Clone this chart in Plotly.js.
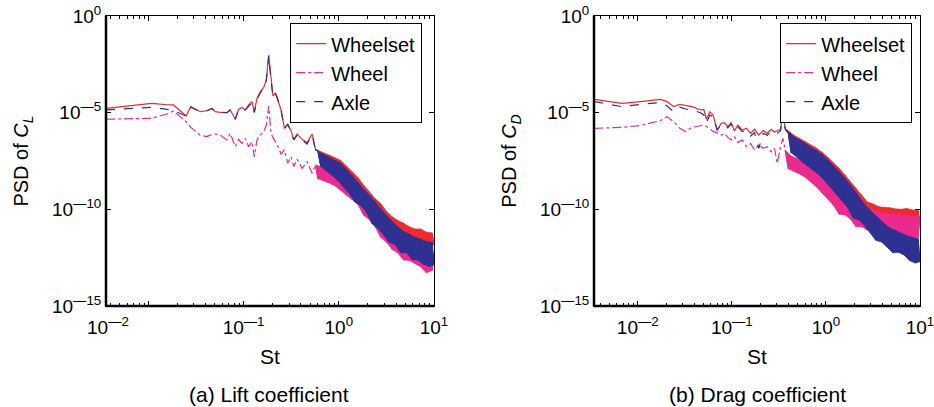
<!DOCTYPE html>
<html><head><meta charset="utf-8">
<script src="https://cdn.plot.ly/plotly-3.0.1.min.js"></script>
<style>html,body{margin:0;padding:0;background:#fff}#chart{width:934px;height:407px}</style>
</head><body><div id="chart"></div>
<script>
// All values are log10(St) and log10(PSD).
// (a) Lift coefficient - low-frequency part
const liftLowLogSt = [-2.445, -2.227, -1.964, -1.806, -1.736, -1.603, -1.554, -1.456, -1.385, -1.333, -1.298, -1.245, -1.175, -1.140, -1.087, -1.052, -1.017, -0.982, -0.947, -0.912, -0.887, -0.859, -0.824, -0.789, -0.761, -0.736, -0.712, -0.691, -0.666, -0.638, -0.606, -0.571, -0.536, -0.501, -0.473, -0.438, -0.385, -0.333, -0.280, -0.245];
const liftLowWheelset = [-4.78, -4.66, -4.52, -4.59, -4.60, -5.17, -4.69, -4.95, -4.90, -4.78, -4.95, -4.98, -5.00, -4.86, -5.34, -4.83, -4.72, -4.86, -4.60, -4.43, -4.95, -4.26, -3.91, -3.69, -3.31, -2.02, -3.31, -4.14, -3.97, -4.34, -4.86, -5.81, -5.59, -5.93, -6.41, -6.10, -6.38, -6.55, -6.10, -6.90];
const liftLowWheel = [-5.34, -5.33, -5.29, -5.07, -4.91, -5.47, -5.76, -6.16, -6.24, -6.12, -6.10, -6.16, -6.41, -6.07, -6.76, -6.38, -6.59, -6.33, -6.76, -6.50, -7.28, -6.41, -6.16, -5.98, -5.64, -4.66, -6.07, -6.28, -6.50, -6.76, -7.14, -6.93, -7.62, -7.28, -7.79, -7.41, -7.88, -7.53, -8.14, -7.71];
const liftLowAxle = [-4.86, -4.79, -4.72, -4.83, -4.90, -5.17, -4.72, -4.95, -4.90, -4.78, -4.95, -4.98, -5.00, -4.86, -5.34, -4.83, -4.78, -4.86, -4.66, -4.48, -5.00, -4.31, -3.97, -3.74, -3.34, -2.07, -3.31, -4.17, -4.00, -4.34, -4.90, -5.81, -5.62, -5.98, -6.41, -6.16, -6.41, -6.62, -6.16, -6.93];
// (a) Lift coefficient - noisy high-frequency part (alternating upper / lower edge of the noise band)
const liftHighLogSt = [-0.22, -0.19, -0.16, -0.13, -0.10, -0.07, -0.04, -0.01, 0.02, 0.05, 0.08, 0.11, 0.14, 0.17, 0.20, 0.23, 0.26, 0.29, 0.32, 0.35, 0.38, 0.41, 0.44, 0.47, 0.50, 0.53, 0.56, 0.59, 0.62, 0.65, 0.68, 0.71, 0.74, 0.77, 0.80, 0.83, 0.86, 0.89, 0.92, 0.95, 0.98, 1.00];
const liftHighWheelset = [-6.95, -7.67, -7.10, -7.88, -7.20, -8.07, -7.33, -8.34, -7.48, -8.66, -7.76, -9.00, -8.06, -9.36, -8.35, -9.69, -8.74, -9.98, -9.08, -10.29, -9.44, -10.59, -9.70, -10.88, -10.10, -11.10, -10.38, -11.28, -10.58, -11.41, -10.72, -11.53, -10.90, -11.62, -11.02, -11.69, -11.02, -11.76, -11.18, -11.81, -11.22, -11.84];
const liftHighWheel = [-8.41, -7.78, -8.53, -7.90, -8.64, -8.02, -8.78, -8.10, -9.00, -8.28, -9.26, -8.52, -9.50, -8.69, -9.74, -8.91, -10.30, -9.21, -10.52, -9.52, -10.88, -9.88, -11.45, -10.28, -11.69, -10.78, -12.07, -11.12, -12.26, -11.41, -12.62, -11.67, -12.64, -11.86, -12.81, -12.02, -12.97, -12.12, -13.28, -12.21, -13.16, -12.28];
const liftHighAxle = [-6.98, -7.78, -7.14, -8.00, -7.29, -8.24, -7.45, -8.52, -7.62, -8.83, -7.93, -9.17, -8.24, -9.62, -8.60, -9.81, -8.95, -10.14, -9.28, -10.75, -9.59, -10.97, -9.98, -11.31, -10.33, -11.72, -10.62, -11.81, -10.91, -12.25, -11.14, -12.24, -11.29, -12.60, -11.45, -12.62, -11.55, -12.85, -11.66, -12.95, -11.72, -12.88];

// (b) Drag coefficient - low-frequency part
const dragLowLogSt = [-2.461, -2.167, -1.972, -1.759, -1.688, -1.617, -1.553, -1.493, -1.422, -1.333, -1.298, -1.270, -1.234, -1.199, -1.156, -1.113, -1.078, -1.043, -1.007, -0.972, -0.936, -0.890, -0.844, -0.801, -0.759, -0.713, -0.667, -0.624, -0.582, -0.546, -0.518, -0.482, -0.457, -0.433];
const dragLowWheelset = [-4.31, -4.52, -4.43, -4.31, -4.43, -4.69, -4.57, -4.62, -4.69, -4.86, -4.83, -5.34, -4.95, -5.12, -5.93, -5.55, -5.52, -5.72, -5.52, -5.95, -5.64, -5.90, -5.81, -6.07, -5.86, -6.16, -5.93, -6.07, -5.86, -6.00, -5.93, -5.86, -4.95, -5.81];
const dragLowWheel = [-5.81, -5.76, -5.66, -5.41, -5.21, -5.47, -5.81, -5.98, -5.76, -5.69, -5.64, -5.72, -5.81, -5.98, -6.03, -6.16, -6.07, -6.28, -6.41, -6.24, -6.55, -6.41, -6.76, -6.59, -6.93, -6.67, -6.84, -6.76, -7.02, -6.84, -7.62, -6.76, -6.33, -6.93];
const dragLowAxle = [-4.43, -4.69, -4.57, -4.48, -4.66, -4.95, -4.72, -4.81, -4.86, -5.00, -5.12, -5.52, -5.12, -5.21, -5.86, -5.66, -5.59, -5.79, -5.59, -5.90, -5.72, -5.98, -5.93, -6.21, -6.03, -6.84, -6.07, -6.17, -5.98, -6.10, -6.07, -5.93, -5.00, -5.86];
// (b) Drag coefficient - noisy high-frequency part (alternating upper / lower edge of the noise band)
const dragHighLogSt = [-0.40, -0.37, -0.34, -0.31, -0.28, -0.25, -0.22, -0.19, -0.16, -0.13, -0.10, -0.07, -0.04, -0.01, 0.02, 0.05, 0.08, 0.11, 0.14, 0.17, 0.20, 0.23, 0.26, 0.29, 0.32, 0.35, 0.38, 0.41, 0.44, 0.47, 0.50, 0.53, 0.56, 0.59, 0.62, 0.65, 0.68, 0.71, 0.74, 0.77, 0.80, 0.83, 0.86, 0.89, 0.92, 0.95, 0.98, 1.00];
const dragHighWheelset = [-6.02, -6.93, -6.17, -7.14, -6.33, -7.38, -6.48, -7.59, -6.67, -7.79, -6.84, -8.00, -7.05, -8.29, -7.31, -8.62, -7.59, -8.95, -7.88, -9.26, -8.21, -9.59, -8.57, -9.91, -8.93, -10.14, -9.25, -10.34, -9.62, -10.41, -9.72, -10.43, -9.86, -10.47, -9.91, -10.48, -9.92, -10.50, -9.98, -10.53, -10.00, -10.55, -9.96, -10.60, -10.03, -10.64, -10.05, -10.69];
const dragHighWheel = [-7.90, -7.24, -8.03, -7.36, -8.17, -7.50, -8.34, -7.64, -8.59, -7.81, -8.84, -7.97, -9.14, -8.17, -9.47, -8.41, -9.79, -8.66, -10.25, -8.90, -10.28, -9.16, -10.50, -9.40, -10.90, -9.66, -10.90, -9.88, -11.07, -10.05, -11.19, -10.12, -11.24, -10.17, -11.45, -10.24, -11.36, -10.26, -11.38, -10.29, -11.40, -10.31, -11.55, -10.33, -11.45, -10.36, -11.47, -10.38];
const dragHighAxle = [-6.07, -7.07, -6.24, -7.29, -6.41, -7.55, -6.59, -7.78, -6.78, -8.00, -6.95, -8.22, -7.16, -8.53, -7.45, -8.86, -7.74, -9.21, -8.05, -9.55, -8.38, -9.90, -8.74, -10.45, -9.12, -10.55, -9.55, -10.84, -9.90, -11.19, -10.19, -11.60, -10.47, -11.69, -10.74, -11.95, -10.97, -12.25, -11.10, -12.22, -11.26, -12.36, -11.36, -12.65, -11.45, -12.78, -11.52, -12.71];

// Labels
const seriesNames = ['Wheelset', 'Wheel', 'Axle'];
const xTickVals = [0.01, 0.1, 1, 10];
const xTickText = ['10<sup>\u20142</sup>', '10<sup>\u20141</sup>', '10<sup>0</sup>', '10<sup>1</sup>'];
const yTickVals = [1, 1e-5, 1e-10, 1e-15];
const yTickText = ['10<sup>0</sup>', '10<sup>\u20145</sup>', '10<sup>\u201410</sup>', '10<sup>\u201415</sup>'];
const captions = ['(a) Lift coefficient', '(b) Drag coefficient'];

const pow10 = a => a.map(v => Math.pow(10, v));
const colors = ['#EE2A2E', '#EC2A8E', '#2E3192'];
const dashes = ['solid', 'dashdot', 'dash'];

// Noise band: the outline follows the read upper edge, then the read lower edge back.
function band(st, v) {
  const up = [0], dn = [0], n = v.length;
  for (let i = 1; i < n - 1; i++) {
    if (v[i] >= v[i - 1] && v[i] >= v[i + 1]) up.push(i); else dn.push(i);
  }
  up.push(n - 1); dn.push(n - 1);
  const idx = up.concat(dn.reverse());
  return {x: idx.map(i => st[i]), y: idx.map(i => v[i])};
}

const traces = [];
function addPlot(lowSt, lows, highSt, highs, xa, ya, legend) {
  for (let k = 0; k < 3; k++) {
    traces.push({
      type: 'scatter', mode: 'lines', name: seriesNames[k],
      x: pow10(lowSt), y: pow10(lows[k]),
      line: {color: colors[k], width: 1.2, dash: dashes[k]},
      xaxis: xa, yaxis: ya, legend: legend, hoverinfo: 'skip'
    });
    const st = [lowSt[lowSt.length - 1]].concat(highSt);
    const v = [lows[k][lows[k].length - 1]].concat(highs[k]);
    const b = band(st, v);
    traces.push({
      type: 'scatter', mode: 'lines', name: seriesNames[k], showlegend: false,
      x: pow10(b.x), y: pow10(b.y), fill: 'toself', fillcolor: colors[k],
      line: {color: colors[k], width: 0.8},
      xaxis: xa, yaxis: ya, legend: legend, hoverinfo: 'skip'
    });
    traces.push({
      type: 'scatter', mode: 'lines', name: seriesNames[k], showlegend: false,
      x: pow10(st), y: pow10(v),
      line: {color: colors[k], width: 1},
      xaxis: xa, yaxis: ya, legend: legend, hoverinfo: 'skip'
    });
  }
}
addPlot(liftLowLogSt, [liftLowWheelset, liftLowWheel, liftLowAxle], liftHighLogSt, [liftHighWheelset, liftHighWheel, liftHighAxle], 'x', 'y', 'legend');
addPlot(dragLowLogSt, [dragLowWheelset, dragLowWheel, dragLowAxle], dragHighLogSt, [dragHighWheelset, dragHighWheel, dragHighAxle], 'x2', 'y2', 'legend2');

const yDomain = [1 - 306 / 407, 1 - 16 / 407];
function xAxis(domain, range, anchor, ticktext) {
  return {
    type: 'log', domain: domain, range: range, anchor: anchor,
    tickmode: 'array', tickvals: xTickVals, ticktext: ticktext,
    ticks: 'inside', ticklen: 5, tickwidth: 1, tickcolor: '#000',
    minor: {ticks: 'inside', ticklen: 3, tickwidth: 1, tickcolor: '#000', dtick: 'D1', showgrid: false},
    showline: true, linecolor: '#000', linewidth: 1, mirror: 'ticks',
    showgrid: false, zeroline: false, ticklabelstandoff: 4, ticklabeloverflow: 'allow',
    tickfont: {size: 19, color: '#000'},
    title: {text: 'St', font: {size: 21, color: '#000'}, standoff: 12}
  };
}
function yAxis(anchor, title) {
  return {
    type: 'log', domain: yDomain, range: [-15, 0], anchor: anchor,
    tickmode: 'array', tickvals: yTickVals, ticktext: yTickText,
    ticks: 'inside', ticklen: 5, tickwidth: 1, tickcolor: '#000',
    showline: true, linecolor: '#000', linewidth: 1, mirror: 'ticks',
    showgrid: false, zeroline: false, ticklabeloverflow: 'allow',
    tickfont: {size: 19, color: '#000'},
    title: {text: title, font: {size: 20, color: '#000'}, standoff: 17}
  };
}
const legendBase = {
  yanchor: 'top', y: 1 - 23 / 407, xanchor: 'right',
  bgcolor: '#fff', bordercolor: '#000', borderwidth: 1.2,
  font: {size: 20, color: '#000'}, tracegroupgap: 0, traceorder: 'normal'
};
function frameLines(xr, yr) {
  return [
    {type: 'line', xref: xr + ' domain', yref: yr + ' domain', x0: 0, x1: 1, y0: 0, y1: 0, line: {color: '#000', width: 2.5}},
    {type: 'line', xref: xr + ' domain', yref: yr + ' domain', x0: 0, x1: 0, y0: 0, y1: 1, line: {color: '#000', width: 2.5}}
  ];
}

const layout = {
  width: 934, height: 407,
  margin: {l: 0, r: 0, t: 0, b: 0},
  paper_bgcolor: '#fff', plot_bgcolor: '#fff',
  font: {family: 'Liberation Sans, Arial, sans-serif', color: '#000'},
  xaxis: xAxis([106 / 934, 434 / 934], [-2.445, 1], 'y', ['', xTickText[1], xTickText[2], xTickText[3]]),
  yaxis: yAxis('x', 'PSD of <i>C</i><sub><i>L</i></sub>'),
  xaxis2: xAxis([594 / 934, 920 / 934], [-2.465, 1], 'y2', xTickText),
  yaxis2: yAxis('x2', 'PSD of <i>C</i><sub><i>D</i></sub>'),
  legend: Object.assign({}, legendBase, {x: 422 / 934}),
  legend2: Object.assign({}, legendBase, {x: 912 / 934}),
  shapes: frameLines('x', 'y').concat(frameLines('x2', 'y2')),
  annotations: [
    {text: xTickText[0], xref: 'x', yref: 'paper', x: -2.42, y: 1 - 326 / 407, showarrow: false, font: {size: 19}, xanchor: 'center', yanchor: 'middle'},
    {text: captions[0], xref: 'paper', yref: 'paper', x: 269 / 934, y: 1 - 394 / 407, showarrow: false, font: {size: 21}, xanchor: 'center', yanchor: 'middle'},
    {text: captions[1], xref: 'paper', yref: 'paper', x: 757 / 934, y: 1 - 394 / 407, showarrow: false, font: {size: 21}, xanchor: 'center', yanchor: 'middle'}
  ]
};

Plotly.newPlot('chart', traces, layout, {staticPlot: true, displayModeBar: false});
</script>
</body></html>
